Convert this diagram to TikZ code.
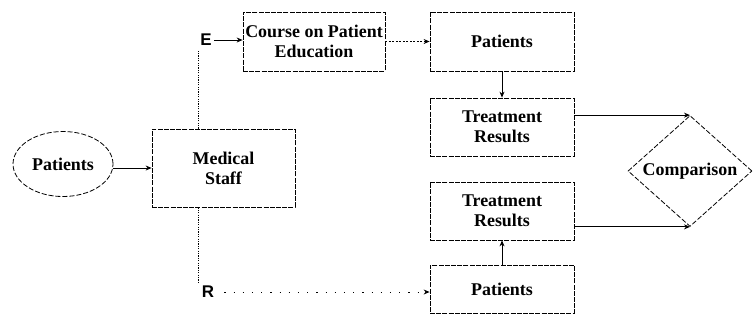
\documentclass[tikz,border=0pt]{standalone}
\usepackage{fontspec}
\setmainfont{Liberation Serif}
\newfontfamily\lsans{Liberation Sans}
\usetikzlibrary{shapes.geometric,arrows.meta}
\begin{document}
\begin{tikzpicture}[x=1bp,y=-1bp,
  lbl/.style={font=\fontsize{18}{20}\selectfont\bfseries, align=center},
  box/.style={lbl, draw, line width=0.8bp, dash pattern=on 5bp off 1.2bp, rectangle, inner sep=0pt},
  tag/.style={font=\lsans\fontsize{17}{17}\selectfont\bfseries, inner sep=0pt},
  arr/.style={-{Stealth[length=6bp,width=5bp]}, line width=0.8bp},
  dotln/.style={line width=0.8bp, dash pattern=on 1.2bp off 1.2bp}
]
\useasboundingbox (0,0) rectangle (753,327);
\node[lbl, draw, ellipse, line width=0.8bp, dash pattern=on 5bp off 2bp, minimum width=100bp, minimum height=65bp, inner sep=0pt] (ell) at (63,164) {Patients};
\node[box, minimum width=143bp, minimum height=78bp] (med) at (223.5,168) {Medical\\Staff};
\node[box, minimum width=142bp, minimum height=59bp] (course) at (314,41.5) {Course on Patient\\Education};
\node[box, minimum width=144bp, minimum height=59bp] (ptop) at (502,41.5) {Patients};
\node[box, minimum width=144bp, minimum height=58bp] (tr1) at (502,127) {Treatment\\Results};
\node[box, minimum width=144bp, minimum height=58bp] (tr2) at (502,211) {Treatment\\Results};
\node[box, minimum width=144bp, minimum height=48bp] (pbot) at (502,289) {Patients};
\node[lbl, draw, diamond, line width=0.8bp, dash pattern=on 5bp off 2bp, minimum width=124bp, minimum height=95bp, inner sep=0pt] (dia) at (690,171) {Comparison};
\node[tag] (E) at (206,40) {E};
\node[tag] (R) at (208,292) {R};
\coordinate (ej) at (198,51);
\coordinate (rj) at (198,282);
% connectors
\draw[arr] (ell.east |- med.west) -- (med.west);
\draw[dotln] (med.north -| ej) -- (ej);
\draw[dotln] (med.south -| rj) -- (rj);
\draw[arr] (E.east) ++(2bp,0) -- (course.west |- E.east);
\draw[arr, dash pattern=on 2bp off 1.5bp] (course.east |- ptop.west) -- (ptop.west);
\draw[arr, dash pattern=on 1.2bp off 8bp] ([xshift=10bp]R.east) -- (pbot.west |- R.east);
\draw[arr] (ptop.south) -- (tr1.north);
\draw[arr] (pbot.north) -- (tr2.south);
\draw[arr] (tr1.east |- dia.north) -- (dia.north);
\draw[arr] (tr2.east |- dia.south) -- (dia.south);
\end{tikzpicture}
\end{document}
